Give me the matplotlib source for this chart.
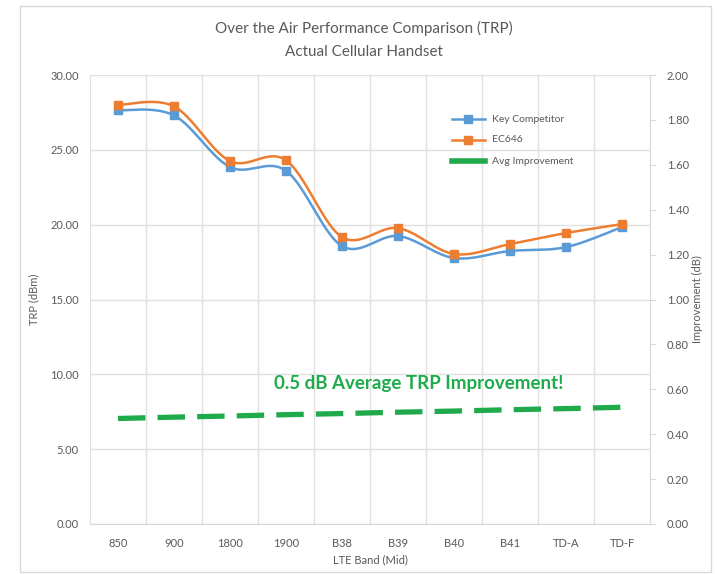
import numpy as np
import matplotlib
matplotlib.use("Agg")
import matplotlib.pyplot as plt
from matplotlib.patches import Rectangle

bands = ["850", "900", "1800", "1900", "B38", "B39", "B40", "B41", "TD-A", "TD-F"]
key_competitor = [27.65, 27.3, 23.85, 23.6, 18.57, 19.24, 17.77, 18.24, 18.5, 19.84]
ec646 = [28.0, 27.9, 24.25, 24.3, 19.17, 19.77, 18.04, 18.7, 19.44, 20.04]
avg_improvement = [0.47, 0.476, 0.481, 0.487, 0.492, 0.498, 0.503, 0.509, 0.514, 0.52]

plt.rcParams['font.family'] = ['Lato', 'DejaVu Sans']

GREY_TXT = "#595959"
BLUE = "#5b9bd5"
ORANGE = "#ed7d31"
GREEN = "#1faa4b"
GRID = "#e0e0e0"


# Excel-style smoothed line (cardinal bezier through the points)
def smooth(x, y, n=30):
    x = np.asarray(x, float)
    y = np.asarray(y, float)
    xs, ys = [], []
    for i in range(len(x) - 1):
        p0 = np.array([x[max(i - 1, 0)], y[max(i - 1, 0)]])
        p1 = np.array([x[i], y[i]])
        p2 = np.array([x[i + 1], y[i + 1]])
        p3 = np.array([x[min(i + 2, len(x) - 1)], y[min(i + 2, len(x) - 1)]])
        c1 = p1 + (p2 - p0) / 6
        c2 = p2 - (p3 - p1) / 6
        t = np.linspace(0, 1, n)[:, None]
        pts = ((1 - t) ** 3) * p1 + 3 * ((1 - t) ** 2) * t * c1 + 3 * (1 - t) * t ** 2 * c2 + t ** 3 * p2
        xs.extend(pts[:, 0])
        ys.extend(pts[:, 1])
    return np.array(xs), np.array(ys)


fig = plt.figure(figsize=(7.17, 5.74), dpi=100)
fig.patches.append(Rectangle((20 / 717, 2 / 574), 691 / 717, 566 / 574, transform=fig.transFigure,
                             fill=False, edgecolor="#d9d9d9", linewidth=1))

ax = fig.add_axes([90 / 717, 1 - 524 / 574, 560 / 717, 449 / 574])
xpos = np.arange(len(bands)) + 0.5

sx, sy = smooth(xpos, key_competitor)
ax.plot(sx, sy, color=BLUE, linewidth=1.8, zorder=3)
ax.plot(xpos, key_competitor, 's', color=BLUE, markersize=6, zorder=4)
sx, sy = smooth(xpos, ec646)
ax.plot(sx, sy, color=ORANGE, linewidth=1.8, zorder=3)
ax.plot(xpos, ec646, 's', color=ORANGE, markersize=6, zorder=4)

ax.set_xlim(0, len(bands))
ax.set_ylim(0, 30)
ax.set_yticks(np.arange(0, 31, 5))
ax.set_yticklabels([f"{v:.2f}" for v in np.arange(0, 31, 5)])
ax.set_xticks(xpos)
ax.set_xticklabels(bands)
ax.set_xticks(np.arange(1, len(bands)), minor=True)
ax.grid(True, axis="y", color=GRID, linewidth=1)
ax.grid(True, axis="x", which="minor", color=GRID, linewidth=1)
ax.tick_params(axis="x", which="both", length=0, colors=GREY_TXT, labelsize=8, pad=10)
ax.tick_params(axis="y", length=0, colors=GREY_TXT, labelsize=8, pad=8)
for s in ["top", "right"]:
    ax.spines[s].set_visible(False)
ax.spines["left"].set_color(GRID)
ax.spines["bottom"].set_color("#d9d9d9")
ax.set_axisbelow(True)
ax.set_ylabel("TRP (dBm)", color=GREY_TXT, fontsize=8, labelpad=8)
ax.set_xlabel("LTE Band (Mid)", color=GREY_TXT, fontsize=8, labelpad=4)

ax2 = ax.twinx()
ax2.plot(xpos, avg_improvement, color=GREEN, linewidth=3.8, dashes=(5.2, 2.3), zorder=3)
ax2.set_ylim(0, 2)
rt = np.arange(0, 2.01, 0.2)
ax2.set_yticks(rt)
ax2.set_yticklabels([f"{v:.2f}" for v in rt])
ax2.tick_params(axis="y", length=4, color="#d9d9d9", labelcolor=GREY_TXT, labelsize=8, pad=8)
for s in ["top", "left", "bottom"]:
    ax2.spines[s].set_visible(False)
ax2.spines["right"].set_color("#d9d9d9")
ax2.set_ylabel("Improvement (dB)", color=GREY_TXT, fontsize=8, labelpad=2)

# legend
lx0, lx1, ltx = 452, 485, 492
for yy, col, lab, kind in [(119, BLUE, "Key Competitor", "m"), (140, ORANGE, "EC646", "m"),
                           (161, GREEN, "Avg Improvement", "g")]:
    fy = 1 - yy / 574
    if kind == "m":
        fig.add_artist(plt.Line2D([lx0 / 717, lx1 / 717], [fy, fy], color=col, linewidth=1.8))
        fig.add_artist(plt.Line2D([(lx0 + lx1) / 2 / 717], [fy], marker="s", color=col, markersize=6))
    else:
        fig.add_artist(plt.Line2D([lx0 / 717, lx1 / 717], [fy, fy], color=col, linewidth=4))
    fig.text(ltx / 717, fy, lab, color=GREY_TXT, fontsize=7.5, va="center", ha="left")

fig.text(0.5 + 5 / 717, 1 - 28 / 574, "Over the Air Performance Comparison (TRP)", color=GREY_TXT,
         fontsize=11, ha="center", va="center")
fig.text(0.5 + 5 / 717, 1 - 52 / 574, "Actual Cellular Handset", color=GREY_TXT,
         fontsize=11, ha="center", va="center")
fig.text(419 / 717, 1 - 383 / 574, "0.5 dB Average TRP Improvement!", color=GREEN,
         fontsize=13.5, fontweight="bold", ha="center", va="center")

fig.savefig("out.png", dpi=100)
